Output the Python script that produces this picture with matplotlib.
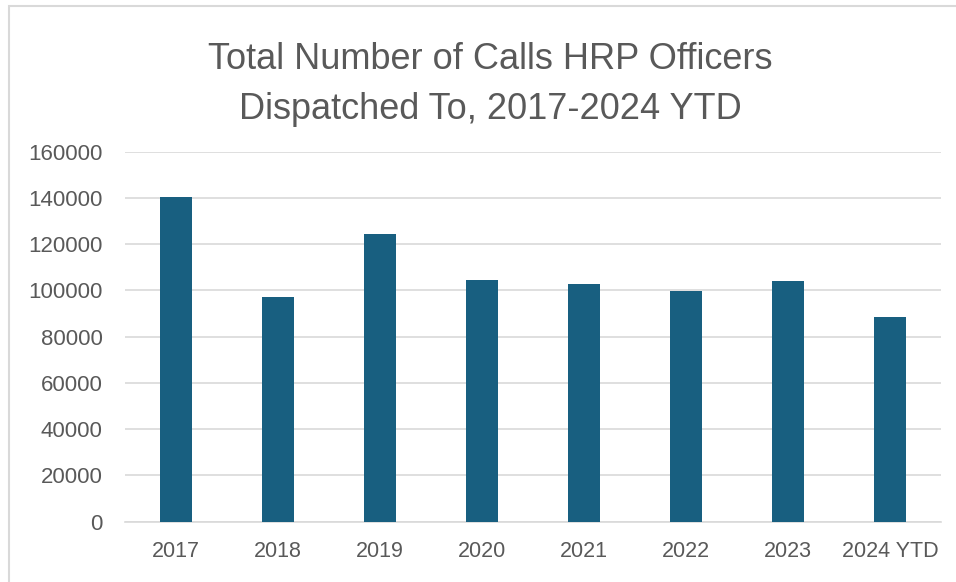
import matplotlib
matplotlib.use("Agg")
import matplotlib.pyplot as plt
from matplotlib.patches import Rectangle

categories = ["2017", "2018", "2019", "2020", "2021", "2022", "2023", "2024 YTD"]
calls = [140300, 97300, 124200, 104400, 102600, 99600, 104300, 88600]
yticks = [0, 20000, 40000, 60000, 80000, 100000, 120000, 140000, 160000]
title_lines = ["Total Number of Calls HRP Officers", "Dispatched To, 2017-2024 YTD"]

plt.rcParams['font.family'] = ['Liberation Sans', 'DejaVu Sans']
txt = '#595959'

fig = plt.figure(figsize=(9.56, 5.82), dpi=100)
fig.patches.append(Rectangle((9/956, -0.05), 1.2, (582-6)/582 + 0.05, transform=fig.transFigure,
                             fill=False, edgecolor='#d9d9d9', linewidth=1.5))
ax = fig.add_axes([125/956, (582-521.7)/582, 816/956, 370/582])
x = list(range(len(categories)))
ax.bar(x, calls, width=0.31, color='#185F80', zorder=3)
ax.set_xlim(-0.5, len(categories)-0.5)
ax.set_ylim(0, 160000)
ax.set_yticks(yticks)
ax.set_yticklabels([str(v) for v in yticks])
ax.set_xticks(x)
ax.set_xticklabels(categories)
ax.grid(axis='y', color='#d9d9d9', linewidth=1.2, zorder=0)
for s in ['top', 'right', 'left']:
    ax.spines[s].set_visible(False)
ax.spines['bottom'].set_color('#d9d9d9')
ax.spines['bottom'].set_linewidth(1.2)
ax.tick_params(axis='y', length=0, pad=16, labelsize=16, labelcolor=txt)
ax.tick_params(axis='x', length=0, pad=14, labelsize=15.5, labelcolor=txt)
fig.text(490/956, 1 - 69/582, title_lines[0], ha='center', va='baseline', fontsize=26, color=txt)
fig.text(490/956, 1 - 119/582, title_lines[1], ha='center', va='baseline', fontsize=26, color=txt)
fig.savefig("out.png", dpi=100)
